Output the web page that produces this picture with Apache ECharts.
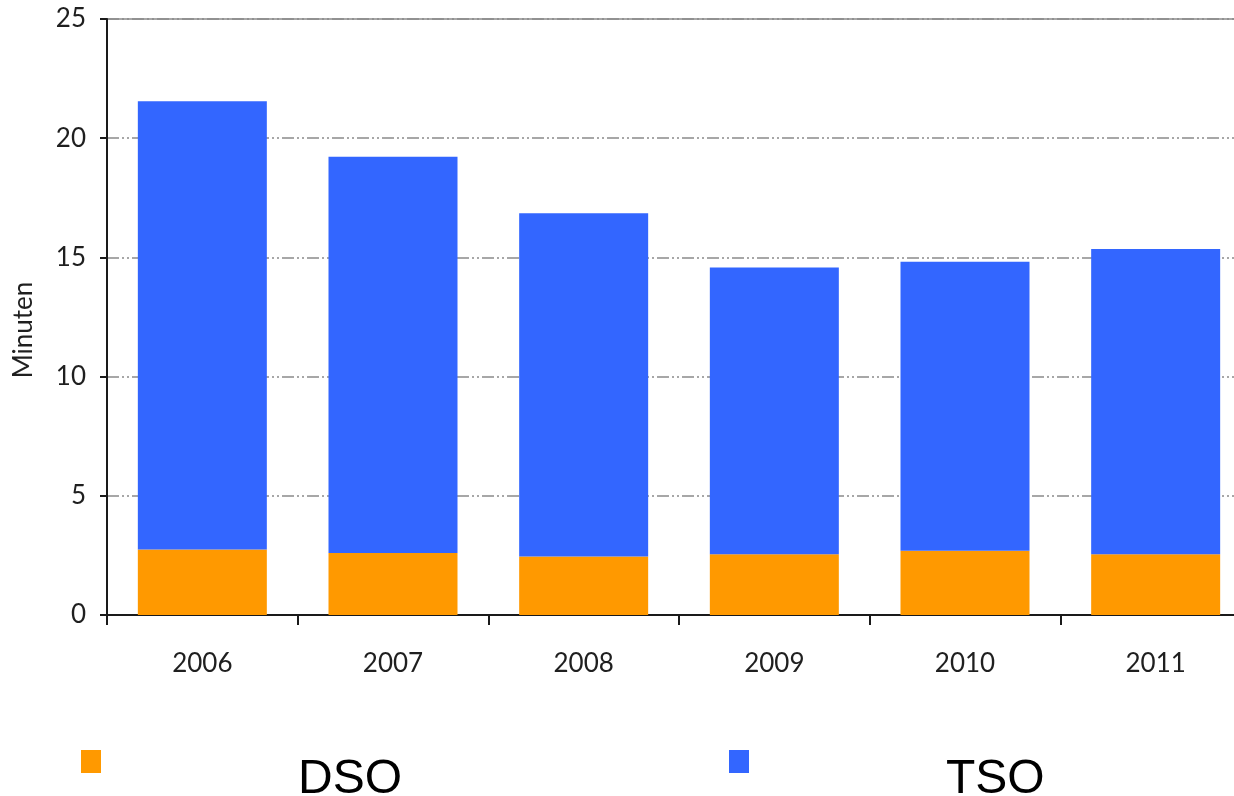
<!DOCTYPE html>
<html>
<head>
<meta charset="utf-8">
<title>Minuten DSO / TSO 2006–2011</title>
<script src="https://cdn.jsdelivr.net/npm/echarts@6/dist/echarts.min.js"></script>
<style>
  html, body { margin: 0; padding: 0; background: #ffffff; }
  #chart { width: 1234px; height: 796px; }
</style>
</head>
<body>
<div id="chart"></div>
<script>
// Years on the category axis
const years = ['2006', '2007', '2008', '2009', '2010', '2011'];
// Distribution system operators (bottom segment), minutes
const dso = [2.75, 2.6, 2.45, 2.55, 2.7, 2.55];
// Transmission system operators (stacked on top), minutes
const tso = [18.8, 16.62, 14.4, 12.03, 12.12, 12.8];
// Value axis ticks
const yTicks = [0, 5, 10, 15, 20, 25];

const chart = echarts.init(document.getElementById('chart'), null, { renderer: 'canvas' });

const labelFont = 'Lato, "Open Sans", sans-serif';

chart.setOption({
  animation: false,
  backgroundColor: '#ffffff',
  grid: {
    left: 107,
    top: 19,
    width: 1144,
    height: 596,
    outerBoundsMode: 'none',
    containLabel: false,
    show: true,
    borderColor: '#8a8a8a',
    borderWidth: 1.5,
    backgroundColor: 'transparent'
  },
  legend: {
    left: 76,
    top: 745,
    itemWidth: 20,
    itemHeight: 23,
    itemGap: 327,
    icon: 'rect',
    selectedMode: false,
    data: ['DSO', 'TSO'],
    formatter: '{t|{name}}',
    textStyle: {
      color: '#000000',
      rich: {
        t: {
          fontFamily: '"Liberation Sans", Arial, sans-serif',
          fontSize: 48,
          color: '#000000',
          padding: [36, 0, 0, 192]
        }
      }
    }
  },
  xAxis: {
    type: 'category',
    data: years,
    axisLine: { lineStyle: { color: '#1a1a1a', width: 2 } },
    axisTick: { show: true, length: 10, lineStyle: { color: '#1a1a1a', width: 2 } },
    axisLabel: {
      margin: 36,
      fontFamily: labelFont,
      fontSize: 26,
      color: '#1f1f1f'
    },
    splitLine: { show: false }
  },
  yAxis: {
    type: 'value',
    min: yTicks[0],
    max: yTicks[yTicks.length - 1],
    interval: yTicks[1] - yTicks[0],
    name: 'Minuten',
    nameLocation: 'middle',
    nameGap: 70,
    nameRotate: 90,
    nameTextStyle: {
      fontFamily: labelFont,
      fontSize: 26,
      color: '#1f1f1f',
      padding: [0, 26, 0, 0]
    },
    axisLine: { show: true, lineStyle: { color: '#1a1a1a', width: 2 } },
    axisTick: { show: true, length: 7, lineStyle: { color: '#1a1a1a', width: 2 } },
    axisLabel: {
      margin: 21,
      fontFamily: labelFont,
      fontSize: 26,
      color: '#1f1f1f'
    },
    splitLine: {
      show: true,
      lineStyle: { color: '#8a8a8a', width: 1.5, type: [12, 3, 2, 3, 2, 3] }
    }
  },
  series: [
    {
      name: 'DSO',
      type: 'bar',
      stack: 'total',
      data: dso,
      barWidth: 129,
      itemStyle: { color: '#ff9900' }
    },
    {
      name: 'TSO',
      type: 'bar',
      stack: 'total',
      data: tso,
      barWidth: 129,
      itemStyle: { color: '#3366ff' }
    }
  ]
});
</script>
</body>
</html>
